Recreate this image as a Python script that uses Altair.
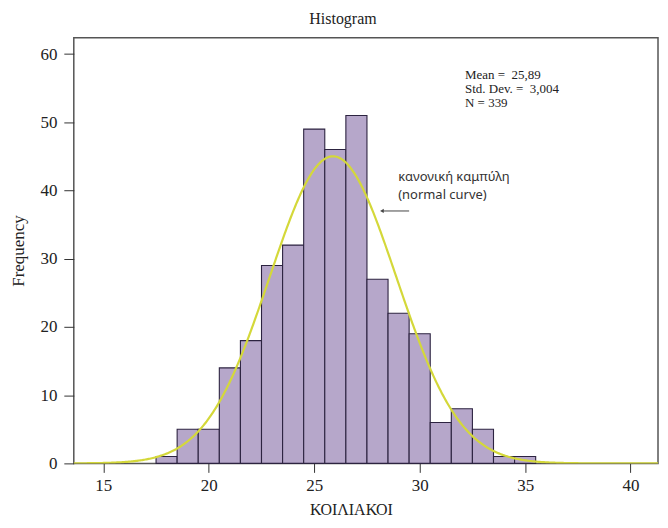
import altair as alt
import pandas as pd

# ---- data ----
bin_centers = [18, 19, 20, 21, 22, 23, 24, 25, 26, 27, 28, 29, 30, 31, 32, 33, 34, 35]
counts = [1, 5, 5, 14, 18, 29, 32, 49, 46, 51, 27, 22, 19, 6, 8, 5, 1, 1]
bin_width = 1
mean_val = 25.89
sd_val = 3.004
n_obs = 339
x_ticks = [15, 20, 25, 30, 35, 40]
y_ticks = [0, 10, 20, 30, 40, 50, 60]
stats_lines = ["Mean =\u00a0\u00a025,89", "Std. Dev. =\u00a0\u00a03,004", "N = 339"]
stats_x = [32.15, 32.15, 32.15]
stats_y = [56.4, 54.35, 52.3]
curve_lines = ["κανονική καμπύλη", "(normal curve)"]
curve_lab_x = [28.98, 28.98]
curve_lab_y = [41.36, 38.73]
arrow_x = [28.21, 29.5]
arrow_y = [37.0, 37.0]
x_domain = [13.6, 41.3]
y_domain = [0, 62.4]

SERIF = "Liberation Serif"

bars_df = pd.DataFrame({"center": bin_centers, "count": counts})
bars_df["start"] = bars_df["center"] - bin_width / 2
bars_df["end"] = bars_df["center"] + bin_width / 2

stats_df = pd.DataFrame({"x": stats_x, "y": stats_y, "t": stats_lines})
cl_df = pd.DataFrame({"x": curve_lab_x, "y": curve_lab_y, "t": curve_lines})
arrow_df = pd.DataFrame({"x": [arrow_x[0]], "x2": [arrow_x[1]], "y": [arrow_y[0]]})

xscale = alt.Scale(domain=x_domain, nice=False, zero=False)
yscale = alt.Scale(domain=y_domain, nice=False, zero=True)

xaxis = alt.Axis(values=x_ticks, grid=False, domain=False, tickSize=9, tickColor="#333",
                 labelFont=SERIF, labelFontSize=17, labelColor="#222", labelPadding=5,
                 title="ΚΟΙΛΙΑΚΟΙ", titleFont=SERIF, titleFontSize=16, titleFontWeight="normal",
                 titleColor="#222", titlePadding=8, titleX=278)
yaxis = alt.Axis(values=y_ticks, grid=False, domain=False, tickSize=10, tickColor="#333",
                 labelFont=SERIF, labelFontSize=17, labelColor="#222", labelPadding=7,
                 title="Frequency", titleFont=SERIF, titleFontSize=17, titleFontWeight="normal",
                 titleColor="#222", titlePadding=12)


def X(field):
    return alt.X(f"{field}:Q", scale=xscale, axis=xaxis)


def Y(field):
    return alt.Y(f"{field}:Q", scale=yscale, axis=yaxis)


bars = alt.Chart(bars_df).mark_rect(fill="#b6a7ca", stroke="#2c2340", strokeWidth=1.1).encode(
    x=X("start"), x2="end:Q", y=Y("count"), y2=alt.datum(0)
)

curve = (
    alt.Chart(alt.sequence(x_domain[0], x_domain[1] + 0.01, 0.05, as_="x"))
    .transform_calculate(
        y=f"{n_obs * bin_width} * exp(-0.5 * pow((datum.x - {mean_val}) / {sd_val}, 2)) / ({sd_val} * sqrt(2 * PI))"
    )
    .mark_line(color="#d4d83a", strokeWidth=2.2, clip=True)
    .encode(x=X("x"), y=Y("y"))
)

stats = alt.Chart(stats_df).mark_text(
    font=SERIF, fontSize=13, align="left", baseline="alphabetic", color="#222"
).encode(x=X("x"), y=Y("y"), text="t:N")

curve_text = alt.Chart(cl_df).mark_text(
    font="Noto Sans", fontSize=13, align="left", baseline="alphabetic", color="#333"
).encode(x=X("x"), y=Y("y"), text="t:N")

arrow_line = alt.Chart(arrow_df).mark_rule(color="#444", strokeWidth=1).encode(
    x=X("x"), x2="x2:Q", y=Y("y")
)
arrow_head = alt.Chart(arrow_df).mark_point(
    shape="triangle-left", filled=True, color="#444", size=18, opacity=1
).encode(x=X("x"), y=Y("y"))

chart = (
    alt.layer(bars, curve, stats, curve_text, arrow_line, arrow_head)
    .properties(
        width=586,
        height=427,
        title=alt.TitleParams("Histogram", font=SERIF, fontSize=16, fontWeight="normal",
                              color="#222", offset=11, dx=-23),
        autosize=alt.AutoSizeParams(type="none"),
        padding={"left": 66, "top": 29, "right": 2, "bottom": 56},
        background="white",
    )
    .configure_view(stroke="#555", strokeWidth=1.5)
)

chart.save("out.html", embed_options={"renderer": "svg", "actions": False})
